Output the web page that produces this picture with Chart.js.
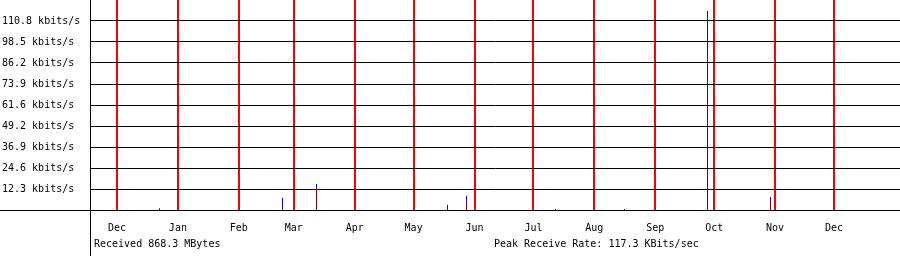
<!DOCTYPE html>
<html>
<head>
<meta charset="utf-8">
<script src="https://cdn.jsdelivr.net/npm/chart.js@4/dist/chart.umd.min.js"></script>
<style>
  html, body { margin: 0; padding: 0; background: #fff; }
  #wrap { width: 900px; height: 256px; }
</style>
</head>
<body>
<div id="wrap"><canvas id="c" width="900" height="256"></canvas></div>
<script>
// ---- data (days counted from the first Dec 1) ----
const monthDays   = [0, 31, 62, 90, 121, 151, 182, 212, 243, 274, 304, 335, 365];
const monthLabels = ['Dec','Jan','Feb','Mar','Apr','May','Jun','Jul','Aug','Sep','Oct','Nov','Dec'];

const spikeDays   = [21.635, 84.25, 101.56, 168.25, 177.92, 223.23, 258.35, 300.60, 332.68];
const avgValues   = [0,      1.9,   12.7,   1.6,    5.7,    0,      0,      97.7,   6.4];
const peakValues  = [1.0,    7.0,   15.2,   3.1,    8.4,    0.6,    0.6,    116.6,  7.6];

const yTickValues = [12.31, 24.62, 36.93, 49.24, 61.55, 73.86, 86.17, 98.48, 110.79];
const yTickLabels = ['12.3 kbits/s','24.6 kbits/s','36.9 kbits/s','49.2 kbits/s','61.6 kbits/s',
                     '73.9 kbits/s','86.2 kbits/s','98.5 kbits/s','110.8 kbits/s'];
const yMax = 123.1;
const xMin = -13.236, xMax = 398.6;

const receivedText = 'Received 868.3 MBytes';
const peakText = 'Peak Receive Rate: 117.3 KBits/sec';

Chart.defaults.font.family = "'DejaVu Sans Mono', monospace";
Chart.defaults.font.size = 10;
Chart.defaults.color = '#000';

const extras = {
  id: 'extras',
  afterDatasetsDraw(chart) {
    const ctx = chart.ctx;
    const y0 = chart.scales.y.getPixelForValue(0);
    const xa = chart.chartArea.left - 1;
    ctx.save();
    ctx.strokeStyle = '#000';
    ctx.lineWidth = 1;
    ctx.beginPath();
    ctx.moveTo(0, Math.round(y0) + 0.5);
    ctx.lineTo(chart.width, Math.round(y0) + 0.5);
    ctx.moveTo(xa + 0.5, 0);
    ctx.lineTo(xa + 0.5, chart.height);
    ctx.stroke();
    ctx.fillStyle = '#000';
    ctx.font = "10px 'DejaVu Sans Mono', monospace";
    ctx.textBaseline = 'alphabetic';
    ctx.textAlign = 'left';
    ctx.fillText(receivedText, 94, 246.5);
    ctx.fillText(peakText, 494, 246.5);
    ctx.restore();
  }
};

new Chart(document.getElementById('c'), {
  type: 'bar',
  data: {
    datasets: [
      {
        label: 'avg',
        data: spikeDays.map((d, i) => ({ x: d, y: avgValues[i] })),
        backgroundColor: '#800000',
        barThickness: 1,
        grouped: false,
        inflateAmount: 0,
        order: 0
      },
      {
        label: 'peak',
        data: spikeDays.map((d, i) => ({ x: d, y: peakValues[i] })),
        backgroundColor: '#0000ff',
        barThickness: 1,
        grouped: false,
        inflateAmount: 0,
        order: 1
      }
    ]
  },
  options: {
    responsive: false,
    animation: false,
    devicePixelRatio: 1,
    layout: { padding: { left: 2, right: 0, top: 0, bottom: 0 } },
    plugins: { legend: { display: false }, tooltip: { enabled: false } },
    scales: {
      x: {
        type: 'linear',
        min: xMin, max: xMax,
        offset: false,
        afterBuildTicks: s => { s.ticks = monthDays.map(v => ({ value: v })); },
        afterFit: s => { s.height = 46; s.paddingLeft = 0; s.paddingRight = 0; },
        ticks: {
          autoSkip: false, maxRotation: 0, padding: 12,
          callback: (v, i) => monthLabels[i]
        },
        grid: { color: '#ff0000', lineWidth: 2, drawTicks: false, offset: false },
        border: { display: false }
      },
      y: {
        min: 0, max: yMax,
        afterBuildTicks: s => { s.ticks = yTickValues.map(v => ({ value: v })); },
        afterFit: s => { s.width = 89; s.paddingTop = 0; s.paddingBottom = 0; },
        ticks: {
          crossAlign: 'far', padding: 0,
          callback: (v, i) => yTickLabels[i]
        },
        grid: { color: '#000', lineWidth: 1, drawTicks: false },
        border: { display: false }
      }
    }
  },
  plugins: [extras]
});
</script>
</body>
</html>
